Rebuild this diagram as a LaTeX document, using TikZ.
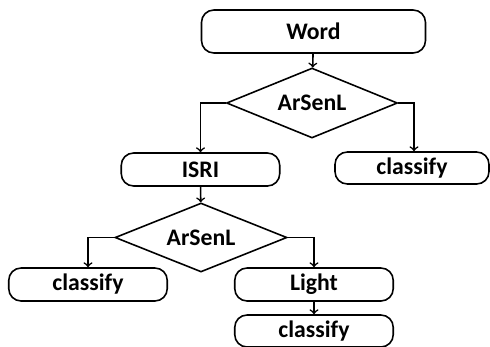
\documentclass[tikz,border=0pt]{standalone}
\usepackage{fontspec}
\setmainfont{Carlito}
\usetikzlibrary{shapes.geometric}

\tikzset{
    stagebox/.style={draw, rounded corners=7pt, line width=0.9pt,
        minimum width=3.17cm, minimum height=0.66cm, inner sep=0pt,
        font=\fontsize{13.5}{16}\selectfont\bfseries},
    testdia/.style={draw, diamond, aspect=2.45, line width=0.9pt, inner sep=0pt,
        minimum width=3.42cm, minimum height=1.4cm,
        font=\fontsize{13.5}{16}\selectfont\bfseries},
    flow/.style={->, line width=0.9pt}
}

\begin{document}
\begin{tikzpicture}[x=0.02cm, y=-0.02cm]
    \useasboundingbox (0,0) rectangle (490,346);

% top
    \node[stagebox, minimum width=4.48cm, minimum height=0.86cm] (word) at (313.5,31.5) {Word};
    \node[testdia] (arsenl) at (312,103) {ArSenL};

% second row
    \node[stagebox] (isri) at (200.5,169.5) {ISRI};
    \node[stagebox, minimum width=3.08cm, minimum height=0.64cm] (classifyA) at (412,168) {classify};

% second test
    \node[testdia, minimum width=3.44cm, minimum height=1.38cm] (arsenlB) at (201,237.5) {ArSenL};

% bottom rows
    \node[stagebox] (classifyB) at (88,284.5) {classify};
    \node[stagebox] (light) at (314,284.5) {Light};
    \node[stagebox, minimum height=0.64cm] (classifyC) at (314,331) {classify};

% connectors
    \draw[flow] (word) -- (arsenl);
    \draw[flow] (arsenl.west) -| (isri.north);
    \draw[flow] (arsenl.east) -| ([xshift=0.04cm]classifyA.north);
    \draw[flow] (isri) -- (arsenlB);
    \draw[flow] (arsenlB.west) -| (classifyB.north);
    \draw[flow] (arsenlB.east) -| (light.north);
    \draw[flow] (light) -- (classifyC);

\end{tikzpicture}
\end{document}
